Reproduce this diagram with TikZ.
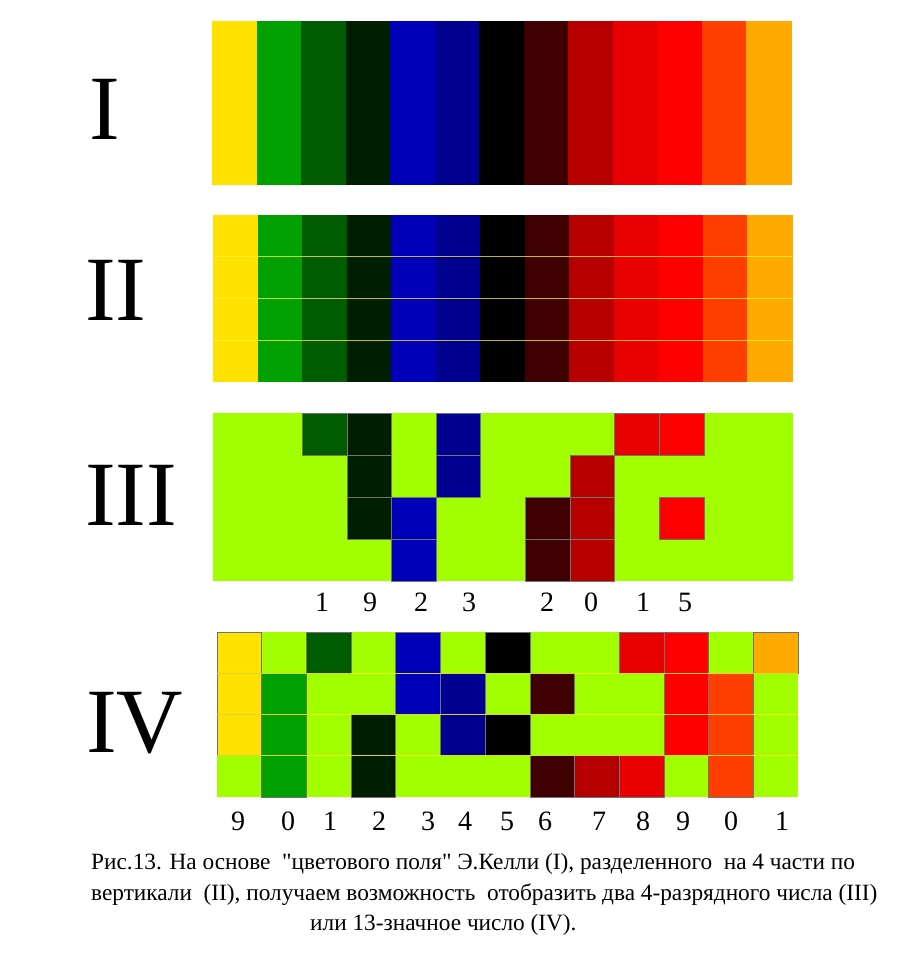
\documentclass[tikz,border=0pt]{standalone}
\usepackage{fontspec}
\setmainfont{Liberation Serif}
\newfontfamily\capfont{Liberation Serif}

% colours of the Kelly field, column by column
\definecolor{kelly0}{RGB}{255,226,0}
\definecolor{kelly1}{RGB}{0,160,0}
\definecolor{kelly2}{RGB}{0,92,0}
\definecolor{kelly3}{RGB}{0,30,0}
\definecolor{kelly4}{RGB}{0,0,185}
\definecolor{kelly5}{RGB}{0,0,145}
\definecolor{kelly6}{RGB}{0,0,0}
\definecolor{kelly7}{RGB}{62,0,0}
\definecolor{kelly8}{RGB}{182,0,0}
\definecolor{kelly9}{RGB}{232,0,0}
\definecolor{kelly10}{RGB}{255,0,0}
\definecolor{kelly11}{RGB}{255,62,0}
\definecolor{kelly12}{RGB}{255,170,0}
\definecolor{fieldlime}{RGB}{162,255,0}

\tikzset{
  numeral/.style={anchor=base west, inner sep=0pt, font=\fontsize{92}{92}\selectfont},
  digit/.style={inner sep=0pt, font=\fontsize{28}{28}\selectfont},
  caption/.style={anchor=base west, inner sep=0pt, font=\capfont\fontsize{23.3}{27}\selectfont},
  cell/.style={draw=black!55, line width=0.6pt},
  rowline/.style={yellow!85!white, line width=1.4pt, opacity=0.75}
}

\begin{document}
\begin{tikzpicture}[x=1pt,y=-1pt]
    \useasboundingbox (0,0) rectangle (900,964);
    % I
    \foreach \i in {0,...,12}
      \fill [kelly\i] ({212+44.54*\i},21) rectangle ({212.6+44.54*(\i+1)},185);
    \node [numeral] (numI) at (89,139.5) {I};
    % II
    \foreach \i in {0,...,12}
      \fill [kelly\i] ({213+44.54*\i},215) rectangle ({213.6+44.54*(\i+1)},382);
    \foreach \y in {256.75,298.5,340.25}
      \draw [rowline] (213,\y) -- (792,\y);
    \node [numeral] (numII) at (85,320.5) {II};
    % III
    \fill [fieldlime] (213,413) rectangle (793,581);
    \foreach \i/\rows in {2/{0},3/{0,1,2},4/{2,3},5/{0,1},7/{2,3},8/{1,2,3},9/{0},10/{0,2}}
      \foreach \r in \rows
        \fill [cell, fill=kelly\i] ({213+44.62*\i},{413+42*\r}) rectangle ({213+44.62*(\i+1)},{413+42*(\r+1)});
    \node [numeral] (numIII) at (85,525.5) {III};
    \foreach \x/\d [count=\n] in {322/1,370/9,421/2,469/3,547/2,591/0,643/1,685/5}
      \node [digit] (dIII-\n) at (\x,602) {\d};
    % IV
    \fill [fieldlime] (217,632) rectangle (798,797);
    \foreach \i/\rows in {0/{0,1,2},1/{1,2,3},2/{0},3/{2,3},4/{0,1},5/{1,2},6/{0,2},7/{1,3},8/{3},9/{0,3},10/{0,1,2},11/{1,2,3},12/{0}}
      \foreach \r in \rows
        \fill [cell, fill=kelly\i] ({217+44.69*\i},{632+41.25*\r}) rectangle ({217+44.69*(\i+1)},{632+41.25*(\r+1)});
    \foreach \y in {673.25,714.5,755.75}
      \draw [rowline] (217,\y) -- (798,\y);
    \node [numeral] (numIV) at (86,752.5) {IV};
    \foreach \x/\d [count=\n] in {238/9,288/0,330/1,379/2,428/3,465/4,507/5,545/6,599/7,643/8,683/9,731/0,782/1}
      \node [digit] (dIV-\n) at (\x,821) {\d};
    % caption
    \node [caption] (cap1) at (91,869) {Рис.13. На основе\ \ "цветового поля" Э.Келли (I), разделенного\ \ на 4 части по};
    \node [caption] (cap2) at (91,900) {вертикали\ \ (II), получаем возможность\ \ отобразить два 4-разрядного числа (III)};
    \node [caption] (cap3) at (310,930) {или 13-значное число (IV).};
\end{tikzpicture}
\end{document}
